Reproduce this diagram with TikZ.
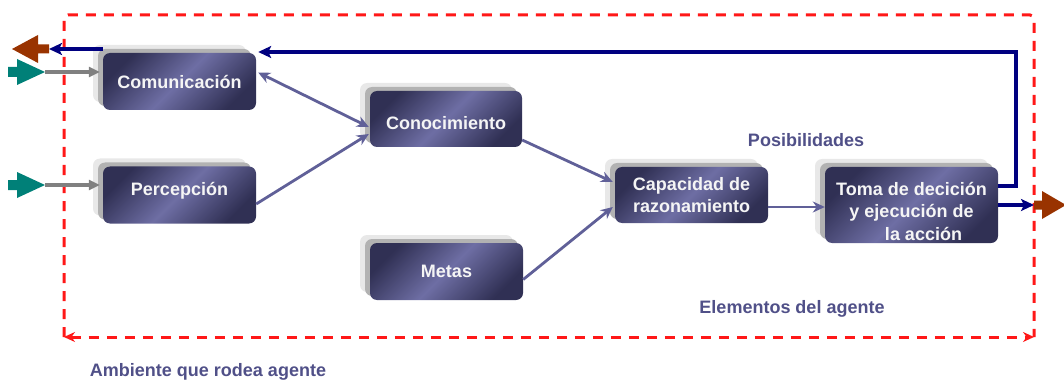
\documentclass[tikz,border=0pt]{standalone}
\usepackage{fontspec}
\setmainfont{Liberation Sans}
\usetikzlibrary{arrows.meta,shadows,calc}
\definecolor{boxdark}{RGB}{48,48,84}
\definecolor{boxlight}{RGB}{110,110,164}
\definecolor{linkc}{RGB}{96,96,152}
\definecolor{navyc}{RGB}{0,0,128}
\definecolor{rustc}{RGB}{153,51,0}
\definecolor{tealc}{RGB}{0,128,120}
\definecolor{labelc}{RGB}{80,80,136}
\definecolor{dashc}{RGB}{255,24,24}
% shift box contents vertically without changing the reserved size
\newcommand{\nudge}[2]{\raisebox{#1}[\height][\depth]{#2}}
\begin{document}
\begin{tikzpicture}[x=1pt,y=-1pt,
  agentbox/.style={rounded corners=7pt, inner sep=0pt, text=white!96!black, align=center,
    font=\fontsize{18}{22.5}\selectfont\bfseries,
    copy shadow={shadow xshift=-10pt,shadow yshift=8pt,fill=black!9,draw=none,opacity=1},
    copy shadow={shadow xshift=-5pt,shadow yshift=4pt,fill=black!30,draw=none,opacity=1},
    top color=boxdark,bottom color=boxdark,middle color=boxlight,shading angle=45},
  link/.style={draw=linkc, line width=2.8pt, -{Stealth[length=12pt,width=11pt]}},
  feed/.style={draw=navyc, line width=3.6pt, -{Stealth[length=13pt,width=12pt,inset=3pt]}},
  feedin/.style={draw=black!50, line width=3.2pt, -{Triangle[length=11pt,width=10pt]}},
  tag/.style={text=labelc, font=\fontsize{18}{22}\selectfont\bfseries},
  envline/.style={draw=dashc, line width=3pt, dash pattern=on 10pt off 8pt}]

\useasboundingbox (0,0) rectangle (1064,382);

% agent environment boundary
\draw[envline, rounded corners=4pt] (64,337) -- (64,15) -- (1034,15) -- (1034,337);
\draw[envline, {Stealth[length=11pt,width=10pt]}-{Stealth[length=11pt,width=10pt]}] (64,337) -- (1034,337);

% agent components
\node[agentbox, minimum width=153pt, minimum height=57pt] (com) at (179.5,81.5) {Comunicación};
\node[agentbox, minimum width=153pt, minimum height=57pt] (per) at (179.5,195) {\nudge{4pt}{Percepción}};
\node[agentbox, minimum width=152pt, minimum height=56pt] (con) at (446,119) {\nudge{-4pt}{Conocimiento}};
\node[agentbox, minimum width=153pt, minimum height=57pt] (met) at (446.5,271.5) {Metas};
\node[agentbox, minimum width=153pt, minimum height=56pt] (cap) at (691.5,195) {Capacidad de\\razonamiento};
\node[agentbox, minimum width=173pt, minimum height=76pt] (toma) at (911.5,205)
  {\nudge{-8pt}{\begin{tabular}{@{}c@{}}Toma de decición\\y ejecución de\\\hspace*{24pt}la acción\end{tabular}}};

% labels
\node[tag] (posib) at (806,140) {Posibilidades};
\node[tag] (elem) at (792,309) {Elementos del agente};
\node[tag] (amb) at (208,372) {Ambiente que rodea agente};

% internal links
\draw[link, {Stealth[length=12pt,width=11pt]}-{Stealth[length=12pt,width=11pt]}]
  ([xshift=2pt,yshift=9pt]com.east) -- ([xshift=-1pt,yshift=-8pt]con.west);
\draw[link] ([yshift=-9pt]per.east) -- ([xshift=-1pt,yshift=-15pt]con.west);
\draw[link] ([yshift=-21pt]con.east) -- ([xshift=-2pt,yshift=13pt]cap.west);
\draw[link] ([yshift=-8pt]met.east) -- ([xshift=-2pt,yshift=-12pt]cap.west);
\draw[link] ([yshift=-12pt]cap.east) -- ([yshift=-2pt]toma.west);

% feedback to communication
\coordinate (fbc) at (1016,52);
\draw[feed] ([yshift=19pt]toma.east) -| (fbc) -- ([xshift=2pt,yshift=29.5pt]com.east);

% outputs to the environment
\coordinate (outA) at (12,49);
\coordinate (outB) at (1034,205);
\draw[feed] ([yshift=32.5pt]com.west) -- ([xshift=37pt]outA);
\draw[feed] ([yshift=0pt]toma.east) -- (outB);
\fill[rustc, shift={(outA)}] (0,0) -- (26,-14) -- (26,-4.5) -- (37,-4.5) -- (37,4.5) -- (26,4.5) -- (26,14) -- cycle;
\fill[rustc, shift={(outB)}] (0,-4.5) -- (8,-4.5) -- (8,-14) -- (32,0) -- (8,14) -- (8,4.5) -- (0,4.5) -- cycle;

% inputs from the environment
\coordinate (inA) at (45,72);
\coordinate (inB) at (45,185);
\fill[tealc, shift={(inA)}] (0,0) -- (-28,-13) -- (-28,-5) -- (-37,-5) -- (-37,5) -- (-28,5) -- (-28,13) -- cycle;
\fill[tealc, shift={(inB)}] (0,0) -- (-28,-13) -- (-28,-5) -- (-37,-5) -- (-37,5) -- (-28,5) -- (-28,13) -- cycle;
\draw[feedin] (inA) -- ([xshift=-3pt,yshift=9.5pt]com.west);
\draw[feedin] (inB) -- ([xshift=-3pt,yshift=10pt]per.west);
\end{tikzpicture}
\end{document}
